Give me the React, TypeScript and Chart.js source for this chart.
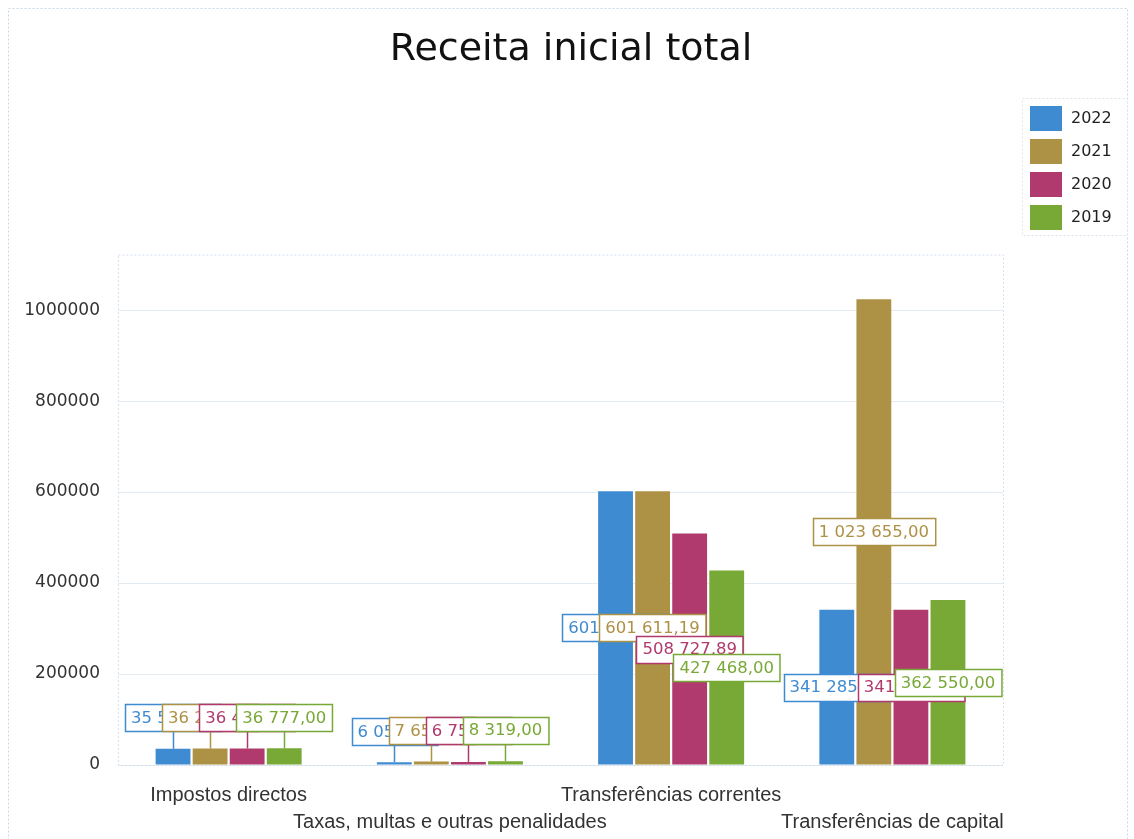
import React, { useEffect, useRef } from "react";
import { Chart, registerables } from "chart.js";

Chart.register(...registerables);

const categories: string[][] = [
  ["Impostos directos"],
  ["", "Taxas, multas e outras penalidades"],
  ["Transferências correntes"],
  ["", "Transferências de capital"],
];
const seriesLabels = ["2022", "2021", "2020", "2019"];
const values2022 = [35520, 6050, 601580, 341285];
const values2021 = [36210, 7650, 601611.19, 1023655];
const values2020 = [36420, 6750, 508727.89, 341310];
const values2019 = [36777, 8319, 427468, 362550];
const colors = ["#3f8bd1", "#ad9145", "#b03a6e", "#78a936"];
const yTicks = [0, 200000, 400000, 600000, 800000, 1000000];

const fmt = (v: number) => {
  const fixed = v.toFixed(2);
  const [intPart, dec] = fixed.split(".");
  const withSpaces = intPart.replace(/\B(?=(\d{3})+(?!\d))/g, " ");
  return withSpaces + "," + dec;
};

const labelFont = "16.5px 'DejaVu Sans', sans-serif";

const decorPlugin = {
  id: "decor",
  beforeDraw(chart: any) {
    const { ctx, chartArea: a, width, height } = chart;
    ctx.save();
    ctx.fillStyle = "#ffffff";
    ctx.fillRect(0, 0, width, height);
    ctx.strokeStyle = "#c9d9ea";
    ctx.lineWidth = 1;
    ctx.setLineDash([2, 2]);
    ctx.strokeRect(8.5, 8.5, width - 15, height - 8);
    ctx.strokeStyle = "#d3e0ee";
    ctx.strokeRect(a.left + 0.5, a.top + 0.5, a.right - a.left, a.bottom - a.top);
    ctx.restore();
  },
  afterDatasetsDraw(chart: any) {
    const { ctx } = chart;
    ctx.save();
    ctx.font = labelFont;
    ctx.textAlign = "center";
    ctx.textBaseline = "middle";
    chart.data.datasets.forEach((ds: any, di: number) => {
      const meta = chart.getDatasetMeta(di);
      meta.data.forEach((bar: any, i: number) => {
        const v = ds.data[i];
        const text = fmt(v);
        const tw = ctx.measureText(text).width;
        const bw = tw + 12;
        const bh = 27;
        const barH = bar.base - bar.y;
        let cy: number;
        let leader = false;
        if (barH > bh + 6) {
          cy = (bar.y + bar.base) / 2;
        } else {
          cy = bar.y - 31;
          leader = true;
        }
        const color = ds.backgroundColor;
        if (leader) {
          ctx.strokeStyle = color;
          ctx.lineWidth = 1.5;
          ctx.beginPath();
          ctx.moveTo(Math.round(bar.x) + 0.5, bar.y);
          ctx.lineTo(Math.round(bar.x) + 0.5, cy + bh / 2);
          ctx.stroke();
        }
        const x0 = Math.round(bar.x - bw / 2) + 0.5;
        const y0 = Math.round(cy - bh / 2) + 0.5;
        ctx.fillStyle = "#ffffff";
        ctx.fillRect(x0, y0, bw, bh);
        ctx.strokeStyle = color;
        ctx.lineWidth = 1.5;
        ctx.strokeRect(x0, y0, bw, bh);
        ctx.fillStyle = color;
        ctx.fillText(text, bar.x, cy + 1);
      });
    });
    ctx.restore();
  },
  afterDraw(chart: any) {
    const { ctx } = chart;
    ctx.save();
    const lx = 1022, ly = 98, lw = 105, lh = 137;
    ctx.strokeStyle = "#dde6f0";
    ctx.lineWidth = 1;
    ctx.setLineDash([2, 2]);
    ctx.strokeRect(lx + 0.5, ly + 0.5, lw, lh);
    ctx.setLineDash([]);
    ctx.font = "16px 'DejaVu Sans', sans-serif";
    ctx.textBaseline = "middle";
    ctx.textAlign = "left";
    chart.data.datasets.forEach((ds: any, i: number) => {
      const cy = ly + 20 + i * 33;
      ctx.fillStyle = ds.backgroundColor;
      ctx.fillRect(lx + 8, cy - 12, 32, 25);
      ctx.fillStyle = "#222";
      ctx.fillText(ds.label, lx + 49, cy + 1);
    });
    ctx.restore();
  },
};

export default function App() {
  const ref = useRef<HTMLCanvasElement>(null);
  useEffect(() => {
    document.body.style.margin = "0";
    const seriesData = [values2022, values2021, values2020, values2019];
    const chart = new Chart(ref.current!, {
      type: "bar",
      data: {
        labels: categories,
        datasets: seriesLabels.map((l, i) => ({
          label: l,
          data: seriesData[i],
          backgroundColor: colors[i],
          borderWidth: 0,
          categoryPercentage: 0.67,
          barPercentage: 0.94,
        })),
      },
      options: {
        animation: false,
        responsive: false,
        layout: { padding: { left: 8, right: 0, top: 0, bottom: 0 } },
        plugins: {
          legend: { display: false },
          tooltip: { enabled: false },
          title: {
            display: true,
            text: "Receita inicial total",
            color: "#111",
            font: { family: "'DejaVu Sans', sans-serif", size: 38, weight: "normal" },
            padding: { top: 27, bottom: 182 },
          },
        },
        scales: {
          x: {
            grid: { display: false, drawTicks: false },
            border: { display: false },
            ticks: {
              color: "#333",
              font: { family: "'Liberation Sans', sans-serif", size: 20, lineHeight: 1.35 },
              padding: 17,
              maxRotation: 0,
              autoSkip: false,
            },
            afterFit: (s: any) => {
              s.height = 74;
            },
          },
          y: {
            min: 0,
            max: 1122000,
            afterBuildTicks: (s: any) => {
              s.ticks = yTicks.map((v) => ({ value: v }));
            },
            grid: {
              color: "rgba(205,218,232,0.55)",
              drawTicks: false,
            },
            border: { display: false },
            ticks: {
              color: "#333",
              font: { family: "'DejaVu Sans', sans-serif", size: 17 },
              padding: 18,
              callback: (v: any) => String(v),
            },
            afterFit: (s: any) => {
              s.width = 110;
            },
          },
          yRight: {
            position: "right",
            display: true,
            grid: { display: false, drawTicks: false },
            border: { display: false },
            ticks: { display: false },
            afterFit: (s: any) => {
              s.width = 131;
            },
          },
        },
      } as any,
      plugins: [decorPlugin],
    });
    return () => chart.destroy();
  }, []);
  return <canvas ref={ref} width={1134} height={839} style={{ display: "block" }} />;
}
